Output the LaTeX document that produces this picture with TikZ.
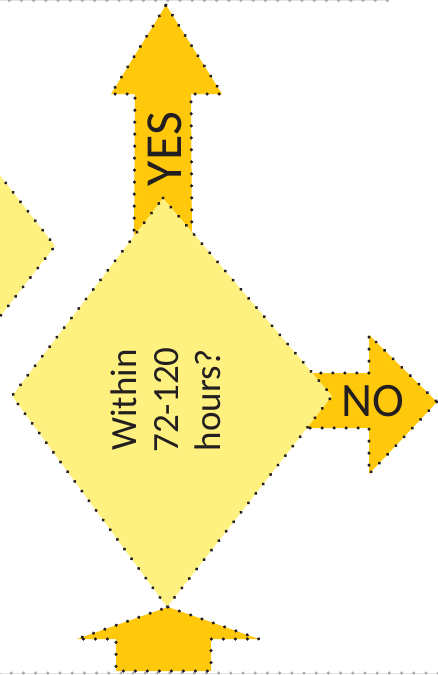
\documentclass[tikz,border=0pt]{standalone}
\usepackage{fontspec}
\usetikzlibrary{decorations.markings}
\setmainfont{Carlito}
\definecolor{arrowgold}{RGB}{255,200,10}
\definecolor{diayellow}{RGB}{255,241,128}
\definecolor{txtdark}{RGB}{35,31,32}
\definecolor{dotgray}{RGB}{170,170,170}
\definecolor{linegray}{RGB}{228,228,228}
\begin{document}
\begin{tikzpicture}[x=1pt,y=-1pt,
  dotline/.style={postaction={decorate,decoration={markings,mark=between positions 0 and 1 step 12pt with {\fill[txtdark] (0,0) circle (1.75pt);}}}},
  frameline/.style={draw=linegray,line width=1pt,postaction={decorate,decoration={markings,mark=between positions 0 and 1 step 12.2pt with {\fill[dotgray] (0,0) circle (1.7pt);}}}},
  arrowshape/.style={fill=arrowgold,dotline},
  diashape/.style={fill=diayellow,dotline},
  lbl/.style={text=txtdark,inner sep=0pt,font=\fontsize{37}{42}\selectfont,align=center}]
\useasboundingbox (0,0) rectangle (437,675);
% frame lines
\coordinate (tl) at (-3,0.5);
\coordinate (tr) at (389,0.5);
\coordinate (bl) at (-1,673);
\coordinate (br) at (440,673);
\path[frameline] (tl) -- (tr);
\path[frameline] (bl) -- (br);
% left diamond (partial)
\path[diashape] (-105,41) -- (55,246) -- (-105,451) -- (-265,246) -- cycle;
% YES arrow
\path[arrowshape] (166,5) -- (222,94) -- (191,94) -- (192,245) -- (134,245) -- (135,94) -- (111,94) -- cycle;
% NO arrow
\path[arrowshape] (437,402) -- (369,474) -- (369,428) -- (295,428) -- (295,373) -- (369,373) -- (369,335) -- cycle;
% main diamond
\path[diashape] (163,198) -- (332,396) -- (167,607) -- (12,396) -- cycle;
% bottom arrow
\path[arrowshape] (168,607) -- (259,639) -- (211,639) -- (211,671) -- (116,671) -- (116,639) -- (77,639) -- cycle;
% texts
\node[lbl,rotate=90] (q) at (166,400) {Within\\72-120\\hours?};
\node[lbl,rotate=90,font=\fontsize{52}{60}\selectfont] (yes) at (165,149) {YES};
\node[lbl,font=\fontsize{48}{56}\selectfont] (no) at (373,401) {NO};
\end{tikzpicture}
\end{document}
